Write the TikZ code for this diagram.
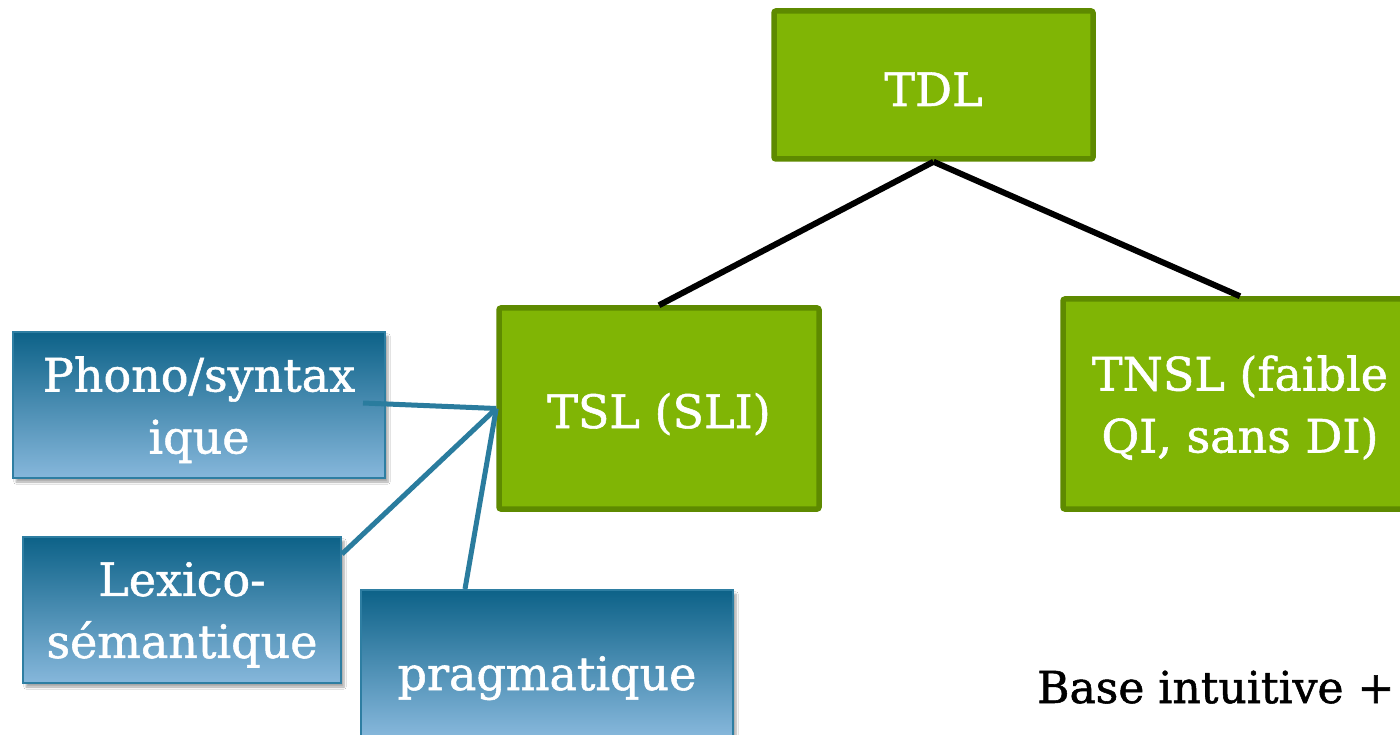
\documentclass[tikz,border=0pt]{standalone}
\usepackage{fontspec}
\setmainfont{DejaVu Serif}
\newfontfamily\slab[FakeBold=1.2]{DejaVu Serif}
\usetikzlibrary{shadows.blur}
\definecolor{gfill}{HTML}{80B505}
\definecolor{gborder}{HTML}{5E8A00}
\definecolor{btop}{HTML}{0D6288}
\definecolor{bbottom}{HTML}{86B7DB}
\definecolor{bborder}{HTML}{2E7EA2}
\definecolor{bline}{HTML}{2A7C9E}
\tikzset{
  greenbox/.style={draw=gborder, fill=gfill, line width=5.5pt, rounded corners=2pt,
    text=white, font=\slab\fontsize{46}{62}\selectfont, align=center, inner sep=0pt, text depth=0pt},
  bluebox/.style={draw=bborder, line width=2pt, top color=btop, bottom color=bbottom,
    text=white, font=\slab\fontsize{46}{62}\selectfont, align=center, inner sep=0pt, text depth=0pt,
    blur shadow={shadow xshift=3pt, shadow yshift=-4pt, shadow opacity=35, shadow blur steps=6}},
  blackline/.style={draw=black, line width=6pt},
  blueline/.style={draw=bline, line width=5pt},
}
\begin{document}
\begin{tikzpicture}[x=1pt, y=-1pt]
\clip (0,0) rectangle (1400,735);
\useasboundingbox (0,0) rectangle (1400,735);
\fill[white] (0,0) rectangle (1400,735);
% green boxes
\node[greenbox, minimum width=319pt, minimum height=148pt, text height=42pt] (tdl) at (933.5,85) {TDL};
\node[greenbox, minimum width=320pt, minimum height=201pt, text height=39pt] (tsl) at (659,408.5) {TSL (SLI)};
\node[greenbox, minimum width=354pt, minimum height=210pt] (tnsl) at (1240,404) {TNSL (faible\\QI, sans DI)};
% blue boxes
\node[bluebox, minimum width=372pt, minimum height=146pt] (phono) at (199,405) {Phono/syntax\\ique};
\node[bluebox, minimum width=318pt, minimum height=146pt] (lexico) at (182,610) {Lexico-\\sémantique};
\node[bluebox, minimum width=372pt, minimum height=146pt, text height=54pt] (prag) at (547,663) {pragmatique};
% connectors
\draw[blackline] (tdl.south) -- (tsl.north);
\draw[blackline] (tdl.south) -- (tnsl.north);
\draw[blueline] ([xshift=-23pt, yshift=2pt]phono.east) -- (tsl.west);
\draw[blueline] ([yshift=-18pt]lexico.north east) -- (tsl.west);
\draw[blueline] ([xshift=-82pt]prag.north) -- (tsl.west);
% bottom text
\node[anchor=base west, inner sep=0pt, font=\slab\fontsize{44}{55}\selectfont] (base) at (1037,703) {Base intuitive +};
\end{tikzpicture}
\end{document}
